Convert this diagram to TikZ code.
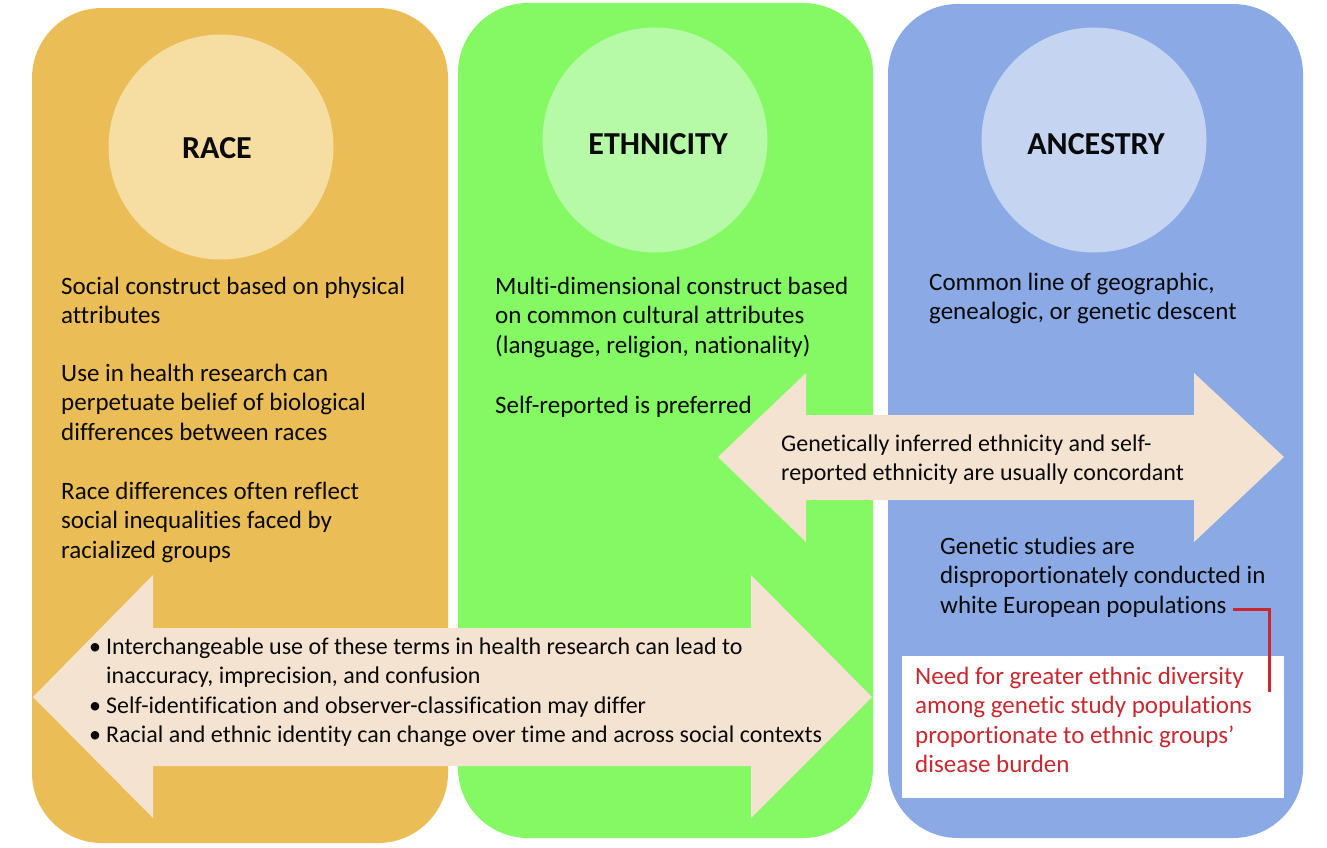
\documentclass[tikz,border=0pt]{standalone}
\usepackage{fontspec}
\setmainfont[Ligatures={NoCommon}]{Carlito}
\definecolor{raceC}{HTML}{EBBD56}
\definecolor{raceL}{HTML}{F6DEA3}
\definecolor{ethC}{HTML}{84F964}
\definecolor{ethL}{HTML}{B6F9A6}
\definecolor{ancC}{HTML}{8AA9E5}
\definecolor{ancL}{HTML}{C4D4F1}
\definecolor{arrC}{HTML}{F5E3D2}
\definecolor{redC}{HTML}{C8282E}
\definecolor{txtC}{HTML}{0A0A0A}
\newcommand{\bodyfont}{\fontsize{25}{29.4}\selectfont}
\newcommand{\arrowfont}{\fontsize{24}{29.4}\selectfont}
\newcommand{\titlefont}{\fontsize{32}{37}\selectfont\bfseries}
\tikzset{
  panel/.style={rounded corners=70pt, draw=none},
  headcircle/.style={circle, minimum size=225pt, inner sep=0pt, draw=none},
  title/.style={font=\titlefont, text=txtC, inner sep=0pt},
  txt/.style={anchor=north west, inner sep=0pt, align=left, font=\bodyfont, text=txtC},
  arrtxt/.style={txt, font=\arrowfont},
  bigarrow/.style={fill=arrC, draw=none},
  redlink/.style={draw=redC, line width=3pt}
}
\begin{document}
\begin{tikzpicture}[x=1pt,y=-1pt]
\useasboundingbox (0,0) rectangle (1327,847);
\fill[white] (0,0) rectangle (1327,847);
% panels
\fill[panel, raceC] (32,8) rectangle (448,843);
\fill[panel, ethC] (458,3) rectangle (873,838);
\fill[panel, ancC] (888,4) rectangle (1303,838);
% circles
\node[headcircle, fill=raceL] (raceCirc) at (221,147) {};
\node[headcircle, fill=ethL] (ethCirc) at (655,140) {};
\node[headcircle, fill=ancL] (ancCirc) at (1094,140) {};
\node[title] (raceT) at (217,148) {RACE};
\node[title] (ethT) at (658,144) {ETHNICITY};
\node[title] (ancT) at (1096,144) {ANCESTRY};
% race text
\node[txt] (r1) at (61,273.5) {\strut Social construct based on physical\\attributes};
\node[txt] (r2) at (61,360.5) {\strut Use in health research can\\perpetuate belief of biological\\differences between races};
\node[txt] (r3) at (61,478.5) {\strut Race differences often reflect\\social inequalities faced by\\racialized groups};
% ethnicity text
\node[txt] (e1) at (495,273.5) {\strut Multi-dimensional construct based\\on common cultural attributes\\(language, religion, nationality)};
\node[txt] (e2) at (495,392.5) {\strut Self-reported is preferred};
% ancestry text
\node[txt] (a1) at (929,269.5) {\strut Common line of geographic,\\genealogic, or genetic descent};
% top right double arrow
\fill[bigarrow] (718,457) -- (806,373) -- (806,415) -- (1194,415) -- (1194,373)
  -- (1284,457) -- (1194,542) -- (1194,500) -- (806,500) -- (806,542) -- cycle;
\node[arrtxt] (ar1) at (781,429.5) {\fontsize{24}{30.5}\selectfont\strut Genetically inferred ethnicity and self-\\reported ethnicity are usually concordant};
% genetic studies
\node[txt] (g1) at (940,533.5) {\strut Genetic studies are\\disproportionately conducted in\\white European populations};
% white box with red text
\fill[white] (902,656) rectangle (1284,798);
\node[txt, text=redC] (need) at (915,663.5) {\strut Need for greater ethnic diversity\\among genetic study populations\\proportionate to ethnic groups'\\disease burden};
\coordinate (lkA) at (1233,609);
\coordinate (lkB) at (1269,692);
\draw[redlink] (lkA) -| (lkB);
% bottom double arrow
\fill[bigarrow] (33,697) -- (153,575) -- (153,628) -- (751,628) -- (751,575)
  -- (872,697) -- (751,818) -- (751,766) -- (153,766) -- (153,818) -- cycle;
\node[arrtxt] (bul) at (89,633.5) {\strut\makebox[17pt][l]{\textbullet}Interchangeable use of these terms in health research can lead to\\
\hspace*{17pt}inaccuracy, imprecision, and confusion\\
\makebox[17pt][l]{\textbullet}Self-identification and observer-classification may differ\\
\makebox[17pt][l]{\textbullet}Racial and ethnic identity can change over time and across social contexts};
\end{tikzpicture}
\end{document}
